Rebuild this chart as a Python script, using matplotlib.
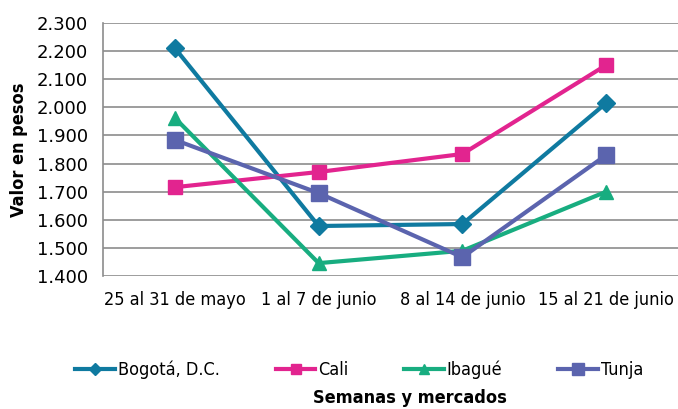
import matplotlib.pyplot as plt

# DATA
semanas = ["25 al 31 de mayo", "1 al 7 de junio", "8 al 14 de junio", "15 al 21 de junio"]
bogota = [2210, 1578, 1585, 2015]
cali   = [1716, 1770, 1834, 2150]
ibague = [1962, 1446, 1490, 1700]
tunja  = [1884, 1695, 1467, 1830]

series = [("Bogotá, D.C.", bogota, "#0f7aa0", "D", 9),
          ("Cali",         cali,   "#e2248f", "s", 10),
          ("Ibagué",       ibague, "#18ad80", "^", 10),
          ("Tunja",        tunja,  "#5b64ae", "s", 11.5)]

plt.rcParams['font.family'] = ['DejaVu Sans']
plt.rcParams['font.stretch'] = 'condensed'

fig = plt.figure(figsize=(6.78, 4.09), dpi=100)
ax = fig.add_axes([0.152, 0.325, 0.848, 0.619])

x = list(range(len(semanas)))
for name, vals, col, mk, ms in series:
    ax.plot(x, vals, color=col, lw=3, marker=mk, markersize=ms, label=name)

ax.set_xlim(-0.5, 3.5)
ax.set_ylim(1400, 2300)
ax.set_yticks(range(1400, 2301, 100))
ax.set_yticklabels(["{:.3f}".format(v / 1000) for v in range(1400, 2301, 100)],
                   fontsize=13, fontstretch='normal')
ax.set_xticks(x)
ax.set_xticklabels(semanas, fontsize=13)
ax.tick_params(axis='y', length=0, pad=11)
ax.tick_params(axis='x', length=0, pad=11)
ax.grid(axis='y', color='#8c8c8c', lw=1.2)
ax.set_axisbelow(True)
for s in ["top", "right", "bottom"]:
    ax.spines[s].set_visible(False)
ax.spines["left"].set_color('#8c8c8c')
ax.spines["left"].set_linewidth(1.2)

fig.text(0.028, 0.634, "Valor en pesos", rotation=90, ha='center', va='center',
         fontsize=13, fontweight='bold')
fig.text(0.605, 0.028, "Semanas y mercados", ha='center', va='center',
         fontsize=13, fontweight='bold')

fig.legend(loc='center', bbox_to_anchor=(0.53, 0.095), ncol=4, frameon=False,
           fontsize=13, handlelength=2.2, handletextpad=0.15, columnspacing=3.1,
           markerscale=0.7)

fig.savefig("out.png", dpi=100)
